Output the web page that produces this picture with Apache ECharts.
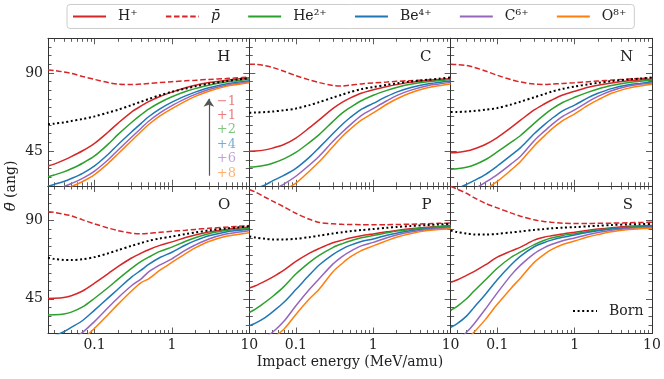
<!DOCTYPE html>
<html>
<head>
<meta charset="utf-8">
<script src="https://cdn.jsdelivr.net/npm/echarts@6.0.0/dist/echarts.min.js"></script>
<style>
  html, body { margin: 0; padding: 0; background: #fff; }
  #chart { width: 664px; height: 379px; }
</style>
</head>
<body>
<div id="chart"></div>
<script>
// impact energy (MeV/amu), shared by every curve
const energies = [0.025, 0.03, 0.04, 0.05, 0.07, 0.1, 0.15, 0.2, 0.3, 0.4, 0.5, 0.7, 1, 1.5, 2, 3, 5, 7, 10];

// mean angle (ang) per target / projectile
const H_Hp   = [36.4, 37.5, 39.8, 41.8, 45.2, 49.5, 56.0, 61.0, 67.5, 71.0, 73.5, 76.5, 79.0, 81.5, 83.0, 84.5, 85.8, 86.5, 87.3];
const H_pbar = [91.7, 91.4, 90.6, 89.8, 88.0, 86.3, 84.5, 83.6, 83.4, 83.6, 84.0, 84.5, 85.0, 85.5, 85.8, 86.3, 86.8, 87.2, 87.6];
const H_He   = [30.2, 31.2, 33.0, 34.8, 38.0, 42.2, 49.0, 54.5, 61.5, 66.0, 69.2, 73.0, 76.3, 79.3, 81.0, 83.0, 84.8, 85.6, 86.5];
const H_Be   = [24.8, 25.8, 27.5, 29.2, 32.2, 36.5, 43.2, 48.7, 56.0, 61.0, 64.8, 69.3, 73.2, 76.8, 79.0, 81.5, 83.7, 84.7, 85.6];
const H_C    = [21.5, 22.5, 24.5, 26.3, 29.3, 33.5, 40.0, 45.5, 53.0, 58.2, 62.2, 67.0, 71.2, 75.2, 77.7, 80.5, 83.0, 84.0, 85.0];
const H_O    = [19.5, 20.5, 22.5, 24.5, 27.5, 31.5, 38.0, 43.3, 51.0, 56.3, 60.3, 65.3, 69.5, 73.8, 76.5, 79.5, 82.3, 83.4, 84.4];
const H_Born = [60.5, 60.8, 61.5, 62.3, 63.5, 65.0, 67.2, 68.8, 71.5, 73.5, 75.0, 77.2, 79.2, 81.0, 82.3, 83.8, 85.3, 86.2, 87.0];

const C_Hp   = [44.9, 45.0, 45.7, 46.7, 48.8, 52.5, 58.5, 63.0, 69.5, 73.2, 75.5, 78.3, 80.3, 82.2, 83.3, 84.6, 85.7, 86.2, 86.8];
const C_pbar = [95.1, 95.0, 94.2, 93.2, 91.0, 88.5, 86.0, 84.5, 82.8, 82.5, 83.0, 83.7, 84.3, 84.8, 85.2, 85.6, 86.0, 86.3, 86.7];
const C_He   = [35.8, 36.0, 36.8, 38.0, 40.5, 44.2, 50.0, 54.5, 62.0, 67.0, 70.0, 74.0, 77.2, 80.0, 81.7, 83.5, 85.0, 85.6, 86.2];
const C_Be   = [22.5, 23.5, 25.5, 27.8, 31.0, 35.0, 41.5, 47.0, 55.0, 60.5, 64.2, 69.0, 72.5, 76.5, 79.0, 81.5, 83.7, 84.6, 85.4];
const C_C    = [17.0, 18.0, 20.0, 22.5, 26.0, 30.5, 37.0, 42.0, 50.5, 56.0, 60.0, 65.5, 69.5, 74.0, 77.0, 80.0, 82.7, 83.7, 84.6];
const C_O    = [14.0, 15.0, 17.0, 19.5, 22.5, 26.5, 33.5, 38.8, 47.5, 53.5, 57.5, 62.8, 67.0, 72.0, 75.0, 78.5, 81.5, 82.7, 83.7];
const C_Born = [67.1, 67.2, 67.5, 67.8, 68.5, 69.5, 71.5, 73.2, 75.8, 77.6, 79.0, 80.7, 81.9, 83.2, 84.0, 85.0, 86.1, 86.7, 87.4];

const N_Hp   = [44.0, 44.2, 45.0, 46.2, 48.8, 52.8, 58.5, 62.8, 68.7, 72.0, 74.3, 77.3, 79.5, 81.8, 83.0, 84.3, 85.5, 86.0, 86.5];
const N_pbar = [95.1, 94.9, 94.3, 93.3, 91.2, 88.7, 86.2, 84.8, 83.6, 83.4, 83.6, 84.0, 84.4, 85.0, 85.4, 85.9, 86.5, 86.8, 87.2];
const N_He   = [34.5, 34.8, 35.7, 37.0, 40.0, 44.5, 50.0, 54.0, 61.0, 65.7, 69.0, 73.0, 76.0, 79.0, 80.8, 82.8, 84.5, 85.2, 85.8];
const N_Be   = [22.0, 23.2, 25.8, 28.0, 31.5, 36.4, 42.5, 47.0, 55.0, 60.0, 63.5, 68.2, 71.5, 75.8, 78.3, 81.0, 83.2, 84.0, 84.9];
const N_C    = [17.0, 18.0, 20.5, 23.0, 27.0, 31.5, 37.5, 42.0, 51.0, 56.2, 60.0, 65.0, 68.8, 73.5, 76.5, 79.8, 82.5, 83.5, 84.3];
const N_O    = [14.0, 15.0, 17.5, 20.0, 23.0, 27.5, 34.0, 39.0, 48.0, 53.5, 57.5, 62.5, 66.5, 71.5, 74.5, 78.3, 81.3, 82.5, 83.5];
const N_Born = [67.5, 67.5, 67.8, 68.1, 68.8, 69.8, 71.8, 73.5, 76.0, 77.8, 79.2, 80.9, 82.2, 83.5, 84.3, 85.3, 86.3, 86.8, 87.4];

const O_Hp   = [45.2, 45.3, 45.8, 46.8, 49.5, 54.0, 59.5, 63.5, 68.5, 71.3, 73.3, 75.8, 77.8, 80.3, 81.8, 83.5, 85.0, 85.7, 86.4];
const O_pbar = [95.1, 94.8, 93.8, 92.8, 90.5, 88.2, 85.8, 84.3, 82.8, 82.4, 82.7, 83.3, 83.9, 84.5, 85.0, 85.6, 86.3, 86.7, 87.2];
const O_He   = [35.7, 35.8, 36.3, 37.3, 40.3, 45.3, 51.5, 56.2, 62.5, 66.5, 69.0, 72.3, 74.8, 78.2, 80.2, 82.5, 84.3, 85.0, 85.6];
const O_Be   = [22.5, 23.5, 26.0, 28.5, 32.5, 38.5, 45.5, 50.5, 57.5, 61.5, 64.8, 68.8, 71.8, 76.0, 78.5, 81.3, 83.5, 84.3, 85.0];
const O_C    = [17.0, 18.0, 20.0, 22.0, 25.7, 32.0, 40.0, 45.5, 52.5, 56.5, 60.5, 64.5, 68.0, 73.0, 76.0, 79.5, 82.3, 83.3, 84.2];
const O_O    = [14.0, 15.0, 17.0, 19.0, 22.0, 28.0, 36.0, 41.8, 49.5, 54.3, 56.5, 61.5, 66.0, 71.0, 74.3, 78.0, 81.0, 82.0, 83.0];
const O_Born = [68.6, 68.0, 67.4, 67.3, 67.8, 69.0, 71.2, 73.0, 75.5, 77.2, 78.4, 79.8, 80.9, 82.3, 83.2, 84.4, 85.5, 86.1, 86.8];

const P_Hp   = [51.2, 52.5, 55.2, 57.5, 61.5, 66.5, 71.3, 74.0, 77.3, 78.8, 80.0, 81.3, 82.4, 83.6, 84.4, 85.3, 86.2, 86.7, 87.2];
const P_pbar = [108.0, 106.5, 103.5, 101.3, 98.0, 94.3, 90.8, 89.0, 88.2, 87.9, 87.8, 87.7, 87.6, 87.7, 87.8, 88.0, 88.3, 88.5, 88.7];
const P_He   = [37.1, 39.0, 43.0, 46.3, 52.0, 59.3, 66.0, 70.0, 74.5, 76.8, 78.3, 80.2, 81.5, 83.0, 84.0, 85.0, 86.0, 86.5, 86.9];
const P_Be   = [29.5, 31.0, 34.2, 37.5, 43.0, 50.3, 58.8, 64.5, 70.5, 73.8, 75.8, 78.0, 79.5, 81.6, 82.8, 84.2, 85.4, 85.9, 86.3];
const P_C    = [19.0, 20.5, 23.0, 25.7, 32.0, 41.0, 50.5, 56.5, 65.0, 69.5, 72.2, 75.5, 77.5, 80.2, 81.8, 83.5, 85.0, 85.5, 85.9];
const P_O    = [16.0, 17.5, 20.0, 22.5, 27.5, 36.0, 45.0, 50.5, 60.5, 65.5, 69.0, 72.8, 75.5, 78.5, 80.5, 82.5, 84.3, 84.9, 85.4];
const P_Born = [80.9, 80.3, 79.6, 79.2, 79.2, 79.6, 80.5, 81.4, 82.6, 83.4, 83.9, 84.6, 85.2, 85.9, 86.4, 86.9, 87.5, 87.8, 88.2];

const S_Hp   = [54.5, 55.8, 58.5, 60.7, 64.5, 69.0, 72.5, 74.8, 78.8, 80.5, 81.3, 82.4, 83.4, 84.5, 85.2, 86.0, 86.8, 87.0, 87.3];
const S_pbar = [109.8, 108.3, 105.8, 103.3, 100.0, 97.4, 94.5, 92.6, 90.5, 89.6, 89.1, 88.6, 88.4, 88.4, 88.5, 88.6, 88.8, 89.0, 89.1];
const S_He   = [38.4, 40.5, 45.0, 49.5, 55.8, 62.6, 68.8, 72.0, 76.2, 78.6, 80.0, 81.5, 82.5, 83.8, 84.6, 85.5, 86.3, 86.6, 86.9];
const S_Be   = [28.6, 30.5, 35.0, 40.0, 47.5, 56.0, 64.5, 69.6, 75.0, 77.3, 78.8, 80.5, 81.8, 83.3, 84.2, 85.2, 86.0, 86.3, 86.6];
const S_C    = [19.0, 21.0, 25.7, 30.5, 39.0, 48.4, 58.5, 64.4, 71.0, 74.3, 76.3, 78.5, 80.0, 82.0, 83.2, 84.5, 85.5, 85.9, 86.2];
const S_O    = [16.0, 18.0, 21.5, 25.7, 33.0, 41.8, 51.0, 57.0, 66.0, 70.5, 73.3, 76.3, 78.3, 80.7, 82.0, 83.6, 84.9, 85.3, 85.6];
const S_Born = [84.3, 83.5, 82.6, 82.1, 82.0, 82.4, 83.2, 83.8, 84.7, 85.2, 85.6, 86.0, 86.3, 86.8, 87.1, 87.5, 87.9, 88.0, 88.2];

const targets = ['H', 'C', 'N', 'O', 'P', 'S'];
const projectiles = ['H⁺', 'p̄', 'He²⁺', 'Be⁴⁺', 'C⁶⁺', 'O⁸⁺'];
const bornName = 'Born';

// tick labels / tick positions
const xMajorTicks = [0.1, 1, 10];
const xMinorTicks = [0.03, 0.04, 0.05, 0.06, 0.07, 0.08, 0.09, 0.2, 0.3, 0.4, 0.5, 0.6, 0.7, 0.8, 0.9, 2, 3, 4, 5, 6, 7, 8, 9];
const yMajorTicks = [45, 90];
const yMinorTicks = [25, 30, 35, 40, 50, 55, 60, 65, 70, 75, 80, 85, 95, 100, 105, 110];

// charge annotation in the H panel
const chargeLabels = ['−1', '+1', '+2', '+4', '+6', '+8'];
const chargeTheta = [73.7, 65.4, 57.1, 48.8, 40.5, 32.2];
const chargeEnergy = 3.8;
const arrowEnergy = 3.0;
const arrowTheta = [30.8, 75.2];

const curves = {
  H: [H_Hp, H_pbar, H_He, H_Be, H_C, H_O, H_Born],
  C: [C_Hp, C_pbar, C_He, C_Be, C_C, C_O, C_Born],
  N: [N_Hp, N_pbar, N_He, N_Be, N_C, N_O, N_Born],
  O: [O_Hp, O_pbar, O_He, O_Be, O_C, O_O, O_Born],
  P: [P_Hp, P_pbar, P_He, P_Be, P_C, P_O, P_Born],
  S: [S_Hp, S_pbar, S_He, S_Be, S_C, S_O, S_Born]
};

const colors = ['#d62728', '#d62728', '#2ca02c', '#1f77b4', '#9467bd', '#ff7f0e', '#000000'];
const labelColors = ['rgba(214,39,40,0.75)', 'rgba(214,39,40,0.75)', 'rgba(44,160,44,0.75)',
  'rgba(31,119,180,0.75)', 'rgba(148,103,189,0.75)', 'rgba(255,127,14,0.75)'];
const font = 'DejaVu Serif';
const ink = '#333';

const colLeft = [48, 249.3, 450.7];
const colWidth = 201.3;
const rowTop = [38.3, 186];
const rowHeight = 147.5;

const chart = echarts.init(document.getElementById('chart'));

const grids = [], xAxes = [], yAxes = [], series = [], graphics = [];

function fmt(v) {
  return String(+(+v).toPrecision(3));
}

targets.forEach((t, gi) => {
  const row = Math.floor(gi / 3), col = gi % 3;
  grids.push({ left: colLeft[col], top: rowTop[row], width: colWidth, height: rowHeight });

  // 4 x axes: bottom major / minor, top major / minor
  [['bottom', xMajorTicks, 6], ['bottom', xMinorTicks, 3.5], ['top', xMajorTicks, 6], ['top', xMinorTicks, 3.5]]
    .forEach(([pos, ticks, len], k) => {
      const ax = {
        type: 'log', logBase: 10, gridIndex: gi, position: pos, min: 0.025, max: 10,
        axisLine: { show: k === 0 || k === 2, lineStyle: { color: ink, width: 1 } },
        axisTick: { show: true, inside: true, length: len, customValues: ticks, lineStyle: { color: ink, width: 0.8 } },
        axisLabel: { show: false },
        splitLine: { show: false }
      };
      if (k === 0 && row === 1) {
        ax.axisLabel = { show: true, customValues: xMajorTicks, margin: 5, color: '#222',
          fontFamily: font, fontSize: 14, formatter: fmt };
      }
      if (k === 0 && gi === 4) {
        ax.name = 'Impact energy (MeV/amu)';
        ax.nameLocation = 'middle';
        ax.nameGap = 22;
        ax.nameTextStyle = { fontFamily: font, fontSize: 14, color: '#222', verticalAlign: 'top' };
      }
      xAxes.push(ax);
    });

  [['left', yMajorTicks, 6], ['left', yMinorTicks, 3.5], ['right', yMajorTicks, 6], ['right', yMinorTicks, 3.5]]
    .forEach(([pos, ticks, len], k) => {
      const ax = {
        type: 'value', gridIndex: gi, position: pos, min: 25, max: 110,
        axisLine: { show: k === 0 || k === 2, lineStyle: { color: ink, width: 1 } },
        axisTick: { show: true, inside: true, length: len, customValues: ticks, lineStyle: { color: ink, width: 0.8 } },
        axisLabel: { show: false },
        splitLine: { show: false }
      };
      if (k === 0 && col === 0) {
        ax.axisLabel = { show: true, customValues: yMajorTicks, margin: 5, color: '#222',
          fontFamily: font, fontSize: 14, formatter: fmt };
      }
      yAxes.push(ax);
    });

  curves[t].forEach((vals, si) => {
    const isBorn = si === 6;
    const isPbar = si === 1;
    series.push({
      type: 'line',
      name: isBorn ? bornName : projectiles[si],
      xAxisIndex: gi * 4,
      yAxisIndex: gi * 4,
      data: energies.map((e, i) => [e, vals[i]]),
      symbol: 'none',
      smooth: 0.3,
      clip: true,
      color: colors[si],
      lineStyle: {
        color: colors[si],
        width: isBorn ? 2 : 1.5,
        type: isBorn ? [2, 2.6] : (isPbar ? [5.5, 2.6] : 'solid'),
        cap: 'butt'
      },
      z: isBorn ? 3 : 2,
      silent: true
    });
  });

  graphics.push({
    type: 'text',
    x: colLeft[col] + colWidth - 19,
    y: rowTop[row] + 19,
    style: { text: t, fontFamily: font, fontSize: 15, fill: '#222', align: 'right', verticalAlign: 'middle' }
  });
});

// charge labels + arrow (H panel)
series.push({
  type: 'scatter',
  name: 'charge',
  xAxisIndex: 0,
  yAxisIndex: 0,
  symbolSize: 0,
  silent: true,
  data: chargeLabels.map((c, i) => ({
    value: [chargeEnergy, chargeTheta[i]],
    name: c,
    label: { color: labelColors[i] }
  })),
  label: { show: true, position: 'right', distance: 0, formatter: p => p.name,
    fontFamily: font, fontSize: 13 },
  markLine: {
    silent: true,
    symbol: ['none', 'arrow'],
    symbolSize: 8,
    label: { show: false },
    lineStyle: { color: '#555', width: 1.2, type: 'solid' },
    data: [[{ coord: [arrowEnergy, arrowTheta[0]] }, { coord: [arrowEnergy, arrowTheta[1]] }]]
  }
});

graphics.push({
  type: 'text',
  x: 11,
  y: 186,
  rotation: Math.PI / 2,
  style: {
    text: '{i|θ̄} (ang)',
    fontFamily: font, fontSize: 14, fill: '#222', align: 'center', verticalAlign: 'middle',
    rich: { i: { fontFamily: font, fontSize: 15, fontStyle: 'italic', fill: '#222' } }
  }
});

// legend symbol hidden, only the line style is shown
const hiddenSymbol = { opacity: 0, borderWidth: 0 };

chart.setOption({
  animation: false,
  grid: grids,
  xAxis: xAxes,
  yAxis: yAxes,
  legend: [
    {
      data: projectiles,
      left: 67,
      top: 4.5,
      padding: [5, 8, 5, 5],
      itemWidth: 33,
      itemHeight: 16,
      itemGap: 27.3,
      itemStyle: hiddenSymbol,
      borderColor: '#cccccc',
      borderWidth: 1,
      borderRadius: 3,
      backgroundColor: '#fff',
      selectedMode: false,
      formatter: n => n === 'p̄' ? '{i|p̄}' : n,
      textStyle: {
        fontFamily: font, fontSize: 14, color: '#222', padding: [0, 0, 0, 7],
        rich: { i: { fontFamily: font, fontSize: 14, fontStyle: 'italic', color: '#222' } }
      }
    },
    {
      data: [bornName],
      left: 572,
      top: 304,
      padding: 0,
      itemWidth: 24,
      itemHeight: 14,
      itemStyle: hiddenSymbol,
      selectedMode: false,
      textStyle: { fontFamily: font, fontSize: 14, color: '#222', padding: [0, 0, 0, 7] }
    }
  ],
  series: series,
  graphic: graphics
});
</script>
</body>
</html>
